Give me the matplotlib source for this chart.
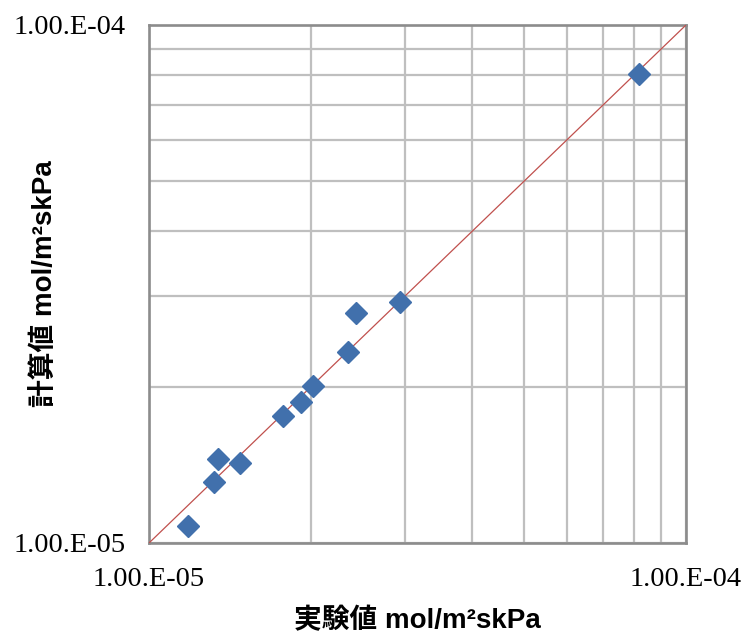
import numpy as np
import matplotlib
matplotlib.use("Agg")
import matplotlib.pyplot as plt

# measured (x) vs calculated (y) values, mol/m2skPa
exp_vals = [1.18e-5, 1.32e-5, 1.345e-5, 1.48e-5, 1.78e-5, 1.92e-5,
            2.02e-5, 2.35e-5, 2.43e-5, 2.93e-5, 8.18e-5]
calc_vals = [1.08e-5, 1.31e-5, 1.45e-5, 1.43e-5, 1.76e-5, 1.87e-5,
             2.01e-5, 2.34e-5, 2.78e-5, 2.92e-5, 8.04e-5]

# y = x reference line
line_vals = [1e-5, 1e-4]

major_ticks = [1e-5, 1e-4]
major_labels = ["1.00.E-05", "1.00.E-04"]
minor_ticks = [k * 1e-5 for k in range(2, 10)]

xlabel = "実験値 mol/m²skPa"
ylabel = "計算値 mol/m²skPa"

label_font = ["Liberation Sans", "Noto Sans CJK JP"]

fig = plt.figure(figsize=(7.46, 6.37), dpi=100)
ax = fig.add_axes([149 / 746, 94 / 637, 537 / 746, 518 / 637])

ax.set_xscale("log")
ax.set_yscale("log")
ax.set_xlim(1e-5, 1e-4)
ax.set_ylim(1e-5, 1e-4)

ax.plot(line_vals, line_vals, color="#C0504D", lw=0.9, zorder=3)
ax.plot(exp_vals, calc_vals, ls="none", marker="D", markersize=11.5,
        color="#4170AC", markeredgecolor="#4170AC", zorder=4, clip_on=False)

ax.set_xticks(major_ticks)
ax.set_xticklabels(major_labels)
ax.set_yticks(major_ticks)
ax.set_yticklabels(major_labels)
ax.set_xticks(minor_ticks, minor=True)
ax.set_yticks(minor_ticks, minor=True)
ax.xaxis.set_minor_formatter(plt.NullFormatter())
ax.yaxis.set_minor_formatter(plt.NullFormatter())

ax.tick_params(which="both", length=0)
ax.tick_params(axis="x", pad=17)
ax.tick_params(axis="y", pad=17)
for lab in ax.get_xticklabels() + ax.get_yticklabels():
    lab.set_fontfamily("Liberation Serif")
    lab.set_fontsize(20.5)

ax.grid(which="both", color="#BFBFBF", lw=1.6, zorder=0)
ax.set_axisbelow(True)
for sp in ax.spines.values():
    sp.set_color("#8C8C8C")
    sp.set_linewidth(1.9)

ax.set_xlabel(xlabel, family=label_font, fontsize=20, fontweight="bold")
ax.set_ylabel(ylabel, family=label_font, fontsize=20, fontweight="bold")
ax.xaxis.set_label_coords(0.5, -0.125)
ax.yaxis.set_label_coords(-0.168, 0.5)

fig.savefig("out.png", dpi=100)
